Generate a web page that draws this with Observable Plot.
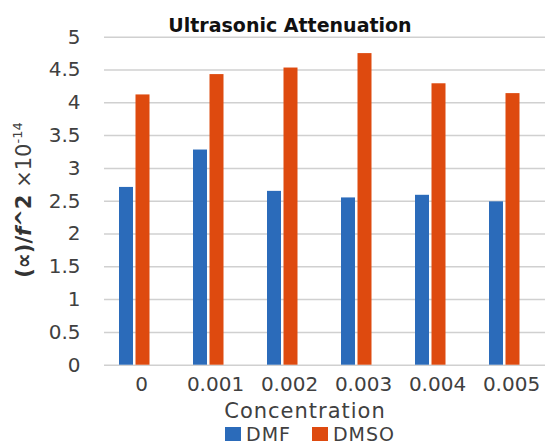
<!DOCTYPE html>
<html>
<head>
<meta charset="utf-8">
<script src="https://cdn.jsdelivr.net/npm/d3@7"></script>
<script src="https://cdn.jsdelivr.net/npm/@observablehq/plot@0.6"></script>
<style>
  html, body { margin: 0; padding: 0; background: #fff; }
  #wrap { position: relative; width: 545px; height: 445px; font-family: "DejaVu Sans", Verdana, sans-serif; }
  #chart { position: absolute; left: 0; top: 0; }
  .ov { position: absolute; white-space: nowrap; line-height: 1; }
  #title { left: 290px; top: 25px; transform: translate(-50%, -50%); font-size: 19px; font-weight: bold; color: #111; }
  #ylabel { left: 23px; top: 200px; transform: translate(-50%, -50%) rotate(-90deg); font-size: 21px; color: #404040; }
  #ylabel b { color: #333; }
  #ylabel sup { font-size: 0.62em; vertical-align: 0.7em; }
  #xlabel { left: 305px; top: 411px; transform: translate(-50%, -50%); font-size: 21px; letter-spacing: 1px; color: #404040; }
  #legend { left: 225px; top: 424px; height: 20px; display: flex; align-items: center; font-size: 19px; letter-spacing: 1px; color: #404040; }
  #legend .item { display: flex; align-items: center; margin-right: 21px; }
  #legend .sw { width: 16px; height: 14px; margin-right: 5px; display: inline-block; }
</style>
</head>
<body>
<div id="wrap">
  <div id="chart"></div>
  <div class="ov" id="title">Ultrasonic Attenuation</div>
  <div class="ov" id="ylabel"><b>(∝)/<i>f</i>^2</b> ×10<sup>-14</sup></div>
  <div class="ov" id="xlabel">Concentration</div>
  <div class="ov" id="legend"></div>
</div>
<script>
const concentrations = ["0", "0.001", "0.002", "0.003", "0.004", "0.005"];
const dmfValues = [2.71, 3.28, 2.65, 2.55, 2.59, 2.49];
const dmsoValues = [4.12, 4.43, 4.53, 4.75, 4.29, 4.14];
const seriesNames = ["DMF", "DMSO"];
const seriesColors = ["#2B6BBA", "#DE4A0F"];
const yTicks = [0, 0.5, 1, 1.5, 2, 2.5, 3, 3.5, 4, 4.5, 5];

const table = [];
concentrations.forEach((c, i) => {
  table.push({concentration: c, series: "DMF", value: dmfValues[i]});
  table.push({concentration: c, series: "DMSO", value: dmsoValues[i]});
});

const plot = Plot.plot({
  width: 545,
  height: 445,
  marginLeft: 104,
  marginRight: 0,
  marginTop: 36.7,
  marginBottom: 80.3,
  style: {fontFamily: "DejaVu Sans, Verdana, sans-serif", fontSize: "20px", color: "#404040", background: "transparent", overflow: "visible"},
  x: {domain: concentrations, range: [97, 541], padding: 0, label: null},
  y: {domain: [0, 5], ticks: yTicks, label: null},
  color: {domain: seriesNames, range: seriesColors},
  marks: [
    Plot.gridY(yTicks, {stroke: "#d0d0d0", strokeOpacity: 1, strokeWidth: 1.5}),
    Plot.barY(table.filter(d => d.series === "DMF"), {x: "concentration", y: "value", fill: "series", insetLeft: 22, insetRight: 38}),
    Plot.barY(table.filter(d => d.series === "DMSO"), {x: "concentration", y: "value", fill: "series", insetLeft: 38.5, insetRight: 21.5}),
    Plot.axisY(yTicks, {tickSize: 0, tickPadding: 24, tickFormat: d => String(d), label: null, fill: "#404040"}),
    Plot.axisX({tickSize: 0, tickPadding: 12, dx: 7, label: null, fill: "#404040"})
  ]
});
document.getElementById("chart").appendChild(plot);

const legend = document.getElementById("legend");
seriesNames.forEach((name, i) => {
  const item = document.createElement("span");
  item.className = "item";
  const sw = document.createElement("span");
  sw.className = "sw";
  sw.style.background = seriesColors[i];
  item.appendChild(sw);
  item.appendChild(document.createTextNode(name));
  legend.appendChild(item);
});
</script>
</body>
</html>
